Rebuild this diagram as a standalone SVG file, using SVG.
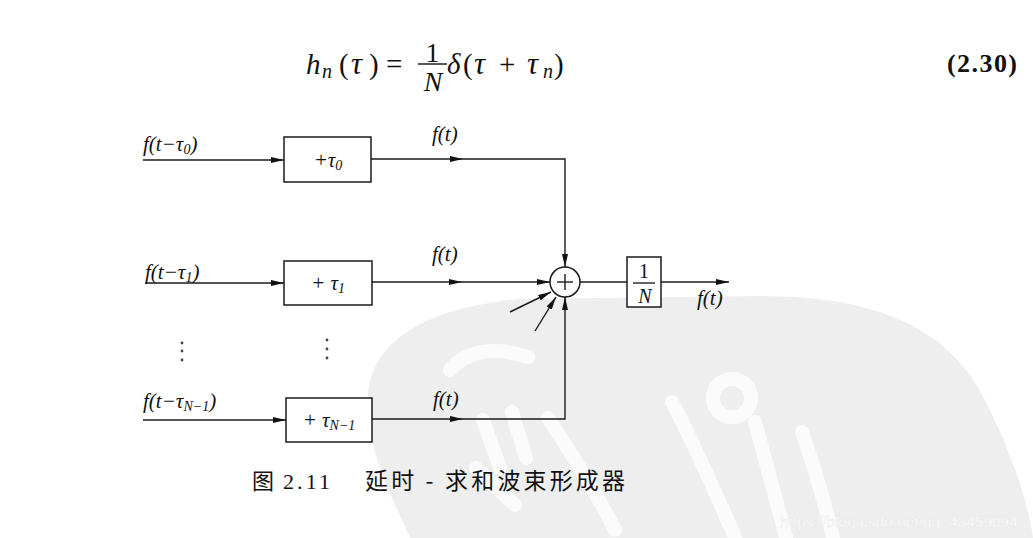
<svg xmlns="http://www.w3.org/2000/svg" width="1033" height="538" viewBox="0 0 1033 538">
<style>
.ln{stroke:#1a1a1a;stroke-width:1.4;fill:none}
.bx{stroke:#1a1a1a;stroke-width:1.5;fill:#fff}
.it{font-family:"Liberation Serif",serif;font-style:italic;fill:#111}
.rm{font-family:"Liberation Serif",serif;fill:#111}
.cjk{font-family:"Noto Sans CJK SC",sans-serif;fill:#111}
.wm{stroke:#fbfbfb;stroke-width:14;fill:none;stroke-linecap:round;stroke-linejoin:round}
</style>
<defs>
<marker id="ah" markerUnits="userSpaceOnUse" markerWidth="13" markerHeight="6" refX="13" refY="3" orient="auto">
<path d="M0,0 L13,3 L0,6 Z" fill="#111"/>
</marker>
</defs>
<rect width="1033" height="538" fill="#fff"/>
<g id="watermark">
<path d="M368,400 C368,345 420,308 520,299 L760,296 C880,296 950,330 985,400 C1010,450 1028,500 1033,538 L410,538 C395,500 368,460 368,400 Z" fill="#eeeeee"/>
<path class="wm" d="M450,370 C465,352 492,345 528,357"/>
<path class="wm" d="M483,420 L500,468"/>
<path class="wm" d="M512,412 L526,458"/>
<path class="wm" d="M548,418 C570,452 595,490 615,530"/>
<path class="wm" d="M476,468 L515,505"/>
<path class="wm" d="M672,402 C688,432 702,462 735,537"/>
<circle class="wm" cx="732" cy="398" r="19"/>
<path class="wm" d="M755,422 C766,462 776,500 786,537"/>
<path class="wm" d="M802,432 C815,470 824,500 833,537"/>
<text x="780" y="527" font-family="Liberation Sans,Arial,sans-serif" font-size="15.5" fill="#ffffff" stroke="#e2e2e2" stroke-width="0.3">https://blog.csdn.net/qq_43459094</text>
</g>
<g id="equation">
<text class="it" x="306" y="74" font-size="29">h</text>
<text class="it" x="322" y="78" font-size="20">n</text>
<text class="rm" x="339" y="74" font-size="29">(</text>
<text class="it" x="351" y="74" font-size="31">τ</text>
<text class="rm" x="369" y="74" font-size="29">)</text>
<text class="rm" x="386" y="74" font-size="29">=</text>
<text class="rm" x="432.5" y="62" font-size="27" text-anchor="middle">1</text>
<line x1="418" y1="64" x2="447" y2="64" stroke="#111" stroke-width="1.4"/>
<text class="it" x="433" y="91" font-size="28" text-anchor="middle">N</text>
<text class="it" x="447" y="74" font-size="29">δ</text>
<text class="rm" x="463" y="74" font-size="29">(</text>
<text class="it" x="474" y="74" font-size="31">τ</text>
<text class="rm" x="499" y="74" font-size="29">+</text>
<text class="it" x="527" y="74" font-size="31">τ</text>
<text class="it" x="543" y="78" font-size="20">n</text>
<text class="rm" x="554" y="74" font-size="29">)</text>
</g>
<g id="eqnum">
<text class="rm" x="947" y="72" font-size="26" font-weight="bold" textLength="70" lengthAdjust="spacing">(2.30)</text>
</g>
<g id="in0">
<text class="it" x="143" y="151" font-size="21">f<tspan class="rm">(</tspan>t<tspan class="rm">−</tspan>τ<tspan class="rm" font-size="14" dy="3">0</tspan><tspan class="rm" dy="-3">)</tspan></text>
</g>
<g id="in1">
<text class="it" x="145" y="279" font-size="21">f<tspan class="rm">(</tspan>t<tspan class="rm">−</tspan>τ<tspan class="rm" font-size="14" dy="3">1</tspan><tspan class="rm" dy="-3">)</tspan></text>
</g>
<g id="inN">
<text class="it" x="143" y="408" font-size="21">f<tspan class="rm">(</tspan>t<tspan class="rm">−</tspan>τ<tspan font-size="14" dy="3">N</tspan><tspan class="rm" font-size="14">−1</tspan><tspan class="rm" dy="-3">)</tspan></text>
</g>
<g id="box0">
<rect class="bx" x="284" y="137" width="87" height="45"/>
<text class="it" x="328" y="167" font-size="21" text-anchor="middle"><tspan class="rm">+</tspan>τ<tspan class="rm" font-size="14" dy="3">0</tspan></text>
</g>
<g id="box1">
<rect class="bx" x="284" y="261" width="88" height="44"/>
<text class="it" x="328" y="290" font-size="21" text-anchor="middle"><tspan class="rm">+ </tspan>τ<tspan class="rm" font-size="14" dy="3">1</tspan></text>
</g>
<g id="boxN">
<rect class="bx" x="286" y="398" width="86" height="44"/>
<text class="it" x="329" y="427" font-size="21" text-anchor="middle"><tspan class="rm">+ </tspan>τ<tspan font-size="14" dy="3">N</tspan><tspan class="rm" font-size="14">−1</tspan></text>
</g>
<g id="dots">
<circle cx="182" cy="343" r="1.4" fill="#444"/>
<circle cx="182" cy="351" r="1.4" fill="#444"/>
<circle cx="182" cy="360" r="1.4" fill="#444"/>
<circle cx="327" cy="340" r="1.4" fill="#444"/>
<circle cx="327" cy="349" r="1.4" fill="#444"/>
<circle cx="327" cy="358" r="1.4" fill="#444"/>
</g>
<g id="sum">
<circle cx="565" cy="282" r="15" stroke="#1a1a1a" stroke-width="1.5" fill="#fff"/>
<line class="ln" x1="565" y1="274" x2="565" y2="290"/>
<line class="ln" x1="557" y1="282" x2="573" y2="282"/>
</g>
<g id="gain">
<rect class="bx" x="627" y="257" width="34" height="50"/>
<text class="rm" x="644" y="278" font-size="20" text-anchor="middle">1</text>
<line x1="633" y1="283" x2="655" y2="283" stroke="#111" stroke-width="1.3"/>
<text class="it" x="645" y="303" font-size="20" text-anchor="middle">N</text>
</g>
<g id="labels">
<text class="it" x="432" y="141" font-size="21">f<tspan class="rm">(</tspan>t<tspan class="rm">)</tspan></text>
<text class="it" x="432" y="261" font-size="21">f<tspan class="rm">(</tspan>t<tspan class="rm">)</tspan></text>
<text class="it" x="433" y="406" font-size="21">f<tspan class="rm">(</tspan>t<tspan class="rm">)</tspan></text>
<text class="it" x="697" y="305" font-size="21">f<tspan class="rm">(</tspan>t<tspan class="rm">)</tspan></text>
</g>
<g id="connectors">
<line class="ln" x1="143" y1="160" x2="284" y2="160" marker-end="url(#ah)"/>
<line class="ln" x1="145" y1="283" x2="284" y2="283" marker-end="url(#ah)"/>
<line class="ln" x1="143" y1="420" x2="286" y2="420" marker-end="url(#ah)"/>
<line class="ln" x1="371" y1="159" x2="463" y2="159" marker-end="url(#ah)"/>
<polyline class="ln" points="463,159 565,159 565,267" marker-end="url(#ah)"/>
<line class="ln" x1="372" y1="282" x2="462" y2="282" marker-end="url(#ah)"/>
<line class="ln" x1="462" y1="282" x2="550" y2="282" marker-end="url(#ah)"/>
<line class="ln" x1="372" y1="419" x2="463" y2="419" marker-end="url(#ah)"/>
<polyline class="ln" points="463,419 565,419 565,297" marker-end="url(#ah)"/>
<line class="ln" x1="510" y1="312" x2="551" y2="292" marker-end="url(#ah)"/>
<line class="ln" x1="535" y1="331" x2="556" y2="297" marker-end="url(#ah)"/>
<line class="ln" x1="580" y1="282" x2="627" y2="282"/>
<line class="ln" x1="661" y1="282" x2="729" y2="282" marker-end="url(#ah)"/>
</g>
<g id="caption">
<text class="cjk" x="252" y="489" font-size="22">图</text>
<text class="rm" x="283" y="489" font-size="22" textLength="47" lengthAdjust="spacing">2.11</text>
<text class="cjk" x="365" y="489" font-size="23" textLength="260" lengthAdjust="spacing">延时 - 求和波束形成器</text>
</g>
</svg>
